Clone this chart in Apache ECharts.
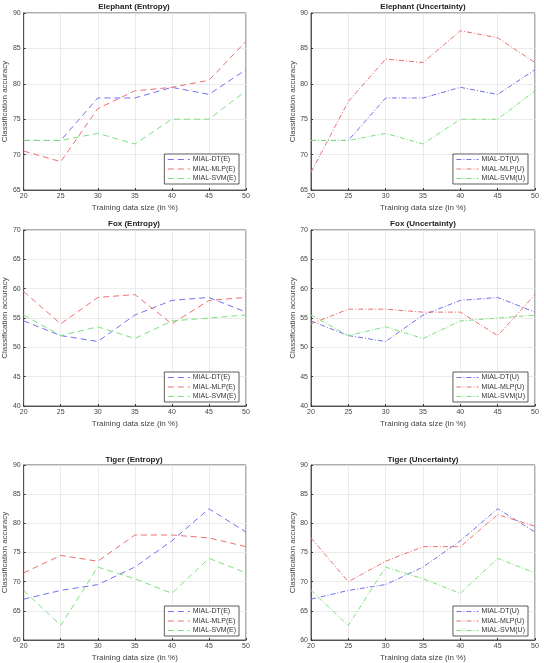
<!DOCTYPE html>
<html>
<head>
<meta charset="utf-8">
<script src="https://cdn.jsdelivr.net/npm/echarts@6/dist/echarts.min.js"></script>
<style>
  html, body { margin: 0; padding: 0; background: #fff; }
  #chart { width: 544px; height: 663px; }
</style>
</head>
<body>
<div id="chart"></div>
<script>
// training data size (%)
const xs = [20, 25, 30, 35, 40, 45, 50];

const elephantDT = [72, 72, 78, 78, 79.5, 78.5, 82];
const elephantMLPE = [70.5, 69, 76.5, 79, 79.5, 80.5, 86];
const elephantSVM = [72, 72, 73, 71.5, 75, 75, 79];
const elephantMLPU = [67.5, 77.5, 83.5, 83, 87.5, 86.5, 83];

const foxDT = [54.5, 52, 51, 55.5, 58, 58.5, 56];
const foxMLPE = [59.5, 54, 58.5, 59, 54, 58, 58.5];
const foxSVM = [55.5, 52, 53.5, 51.5, 54.5, 55, 55.5];
const foxMLPU = [54, 56.5, 56.5, 56, 56, 52, 59];

const tigerDT = [67, 68.5, 69.5, 72.5, 77, 82.5, 78.5];
const tigerMLPE = [71.5, 74.5, 73.5, 78, 78, 77.5, 76];
const tigerSVM = [68.5, 62.5, 72.5, 70.5, 68, 74, 71.5];
const tigerMLPU = [77.5, 70, 73.5, 76, 76, 81.5, 79.5];

const colors = ['#7070f0', '#ee7070', '#7ae27a'];
const font = 'Liberation Sans, Arial, sans-serif';

const panels = [
  { title: 'Elephant (Entropy)', kind: 'E', ymin: 65, ymax: 90, data: [elephantDT, elephantMLPE, elephantSVM] },
  { title: 'Elephant (Uncertainty)', kind: 'U', ymin: 65, ymax: 90, data: [elephantDT, elephantMLPU, elephantSVM] },
  { title: 'Fox (Entropy)', kind: 'E', ymin: 40, ymax: 70, data: [foxDT, foxMLPE, foxSVM] },
  { title: 'Fox (Uncertainty)', kind: 'U', ymin: 40, ymax: 70, data: [foxDT, foxMLPU, foxSVM] },
  { title: 'Tiger (Entropy)', kind: 'E', ymin: 60, ymax: 90, data: [tigerDT, tigerMLPE, tigerSVM] },
  { title: 'Tiger (Uncertainty)', kind: 'U', ymin: 60, ymax: 90, data: [tigerDT, tigerMLPU, tigerSVM] },
];

// layout
const colLeft = [22, 311];
const gridW = 224;
const rows = [
  { top: 13, h: 177, titleY: 2, legendTop: 154 },
  { top: 230, h: 176, titleY: 219, legendTop: 372 },
  { top: 465, h: 178, titleY: 455, legendTop: 606 },
];
const legendRight = [305, 16];

const grid = [], xAxis = [], yAxis = [], title = [], legend = [], series = [];

panels.forEach((p, i) => {
  const col = i % 2, row = rows[Math.floor(i / 2)];
  grid.push({
    left: colLeft[col], top: row.top, width: gridW, height: row.h,
    show: true, borderColor: '#333', borderWidth: 0.8, backgroundColor: '#fff'
  });
  xAxis.push({
    type: 'value', gridIndex: i, min: 20, max: 50, interval: 5,
    name: 'Training data size (in %)', nameLocation: 'middle', nameGap: 14,
    nameTextStyle: { fontSize: 8, color: '#444', fontFamily: font },
    axisLine: { show: true, lineStyle: { color: '#333', width: 0.8 } },
    axisTick: { show: true, inside: true, length: 2, lineStyle: { color: '#333' } },
    axisLabel: { fontSize: 7, color: '#444', margin: 3, fontFamily: font },
    splitLine: { show: true, lineStyle: { color: '#e6e6e6', width: 0.8 } }
  });
  yAxis.push({
    type: 'value', gridIndex: i, min: p.ymin, max: p.ymax, interval: 5,
    name: 'Classification accuracy', nameLocation: 'middle', nameGap: 13,
    nameTextStyle: { fontSize: 8, color: '#444', fontFamily: font },
    axisLine: { show: true, lineStyle: { color: '#333', width: 0.8 } },
    axisTick: { show: true, inside: true, length: 2, lineStyle: { color: '#333' } },
    axisLabel: { fontSize: 7, color: '#444', margin: 3, fontFamily: font },
    splitLine: { show: true, lineStyle: { color: '#e6e6e6', width: 0.8 } }
  });
  title.push({
    text: p.title, left: colLeft[col] + gridW / 2, top: row.titleY + 1, textAlign: 'center', padding: 0,
    textStyle: { fontSize: 8, fontWeight: 'bold', color: '#222', fontFamily: font }
  });
  const names = ['MIAL-DT(' + p.kind + ')', 'MIAL-MLP(' + p.kind + ')', 'MIAL-SVM(' + p.kind + ')'];
  const dash = p.kind === 'E' ? [6, 4] : [5, 2, 1, 2];
  legend.push({
    data: names.map((n, k) => ({
      name: n,
      itemStyle: { opacity: 0 },
      lineStyle: { color: colors[k], width: 1, type: dash, opacity: 1 }
    })),
    orient: 'vertical', right: legendRight[col], top: row.legendTop,
    itemWidth: 22, itemHeight: 6, itemGap: 2.5, padding: [2, 3, 2, 3],
    backgroundColor: '#fff', borderColor: '#333', borderWidth: 0.8, borderRadius: 0,
    textStyle: { fontSize: 7, color: '#333', fontFamily: font, padding: [0, 0, 0, -2] }
  });
  names.forEach((n, k) => {
    series.push({
      name: n, type: 'line', xAxisIndex: i, yAxisIndex: i,
      symbol: 'none', animation: false,
      data: xs.map((x, j) => [x, p.data[k][j]]),
      itemStyle: { color: colors[k] },
      lineStyle: { color: colors[k], width: 1, type: dash }
    });
  });
});

const myChart = echarts.init(document.getElementById('chart'));
myChart.setOption({ animation: false, title, grid, xAxis, yAxis, legend, series });
</script>
</body>
</html>
